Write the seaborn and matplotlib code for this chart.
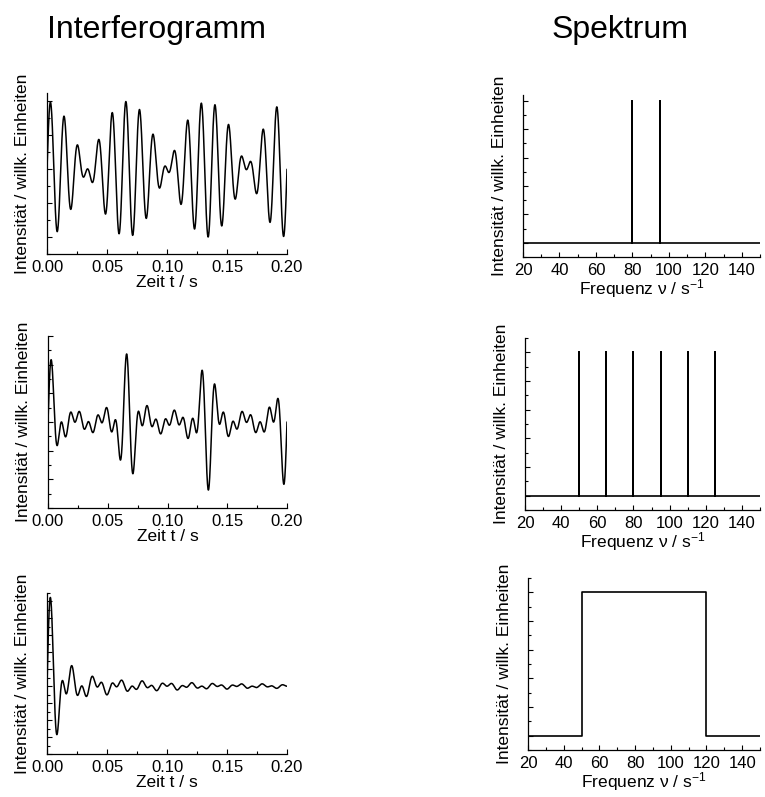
import numpy as np
import pandas as pd
import matplotlib
matplotlib.use("Agg")
import matplotlib.pyplot as plt
from matplotlib.ticker import MultipleLocator, FormatStrFormatter
import seaborn as sns

# spectral content of the three examples (frequencies in 1/s, intensity 1)
lines_top = [80, 95]
lines_mid = [50, 65, 80, 95, 110, 125]
band_bottom = [50, 120]
freq_range = [20, 150]
time_range = [0.0, 0.2]

sns.set_theme(style="ticks", rc={
    "xtick.direction": "in", "ytick.direction": "in",
    "xtick.major.size": 3.5, "ytick.major.size": 3.5,
    "xtick.minor.size": 2, "ytick.minor.size": 2,
    "xtick.major.width": 0.8, "ytick.major.width": 0.8,
    "xtick.minor.width": 0.8, "ytick.minor.width": 0.8,
    "axes.linewidth": 0.9, "axes.edgecolor": "black",
    "xtick.color": "black", "ytick.color": "black",
    "text.color": "black", "axes.labelcolor": "black",
})
plt.rcParams["font.family"] = ["Liberation Sans", "DejaVu Sans"]
plt.rcParams["mathtext.fontset"] = "custom"
plt.rcParams["mathtext.rm"] = "Liberation Sans"
plt.rcParams["mathtext.it"] = "Liberation Sans:italic"

t = np.linspace(time_range[0], time_range[1], 4001)


def interferogram_lines(freqs):
    return sum(np.sin(2 * np.pi * f * t) for f in freqs)


def interferogram_band(f1, f2):
    tt = np.where(t == 0, 1e-12, t)
    return (np.cos(2 * np.pi * f1 * tt) - np.cos(2 * np.pi * f2 * tt)) / (2 * np.pi * tt)


def spectrum_lines(freqs):
    x, y = [freq_range[0]], [0]
    for f in freqs:
        x += [f, f, f]
        y += [0, 1, 0]
    x.append(freq_range[1])
    y.append(0)
    return pd.DataFrame({"f": x, "I": y})


def spectrum_band(f1, f2):
    return pd.DataFrame({"f": [freq_range[0], f1, f1, f2, f2, freq_range[1]],
                         "I": [0, 0, 1, 1, 0, 0]})


rows = [
    (interferogram_lines(lines_top), spectrum_lines(lines_top), (-2.5, 2.25), 1.0, (-0.1, 1.04)),
    (interferogram_lines(lines_mid), spectrum_lines(lines_mid), (-7.5, 7.5), 2.5, (-0.1, 1.1)),
    (interferogram_band(*band_bottom), spectrum_band(*band_bottom), (-50, 68.75), 12.5, (-0.1, 1.1)),
]

W, H = 765, 797
left_boxes = [(47, 93, 287, 254), (48, 336, 287, 508), (47, 593, 287, 754)]
right_boxes = [(523, 95, 760, 257), (525, 338, 760, 510), (528, 578, 760, 750)]


def box(b):
    x0, y0, x1, y1 = b
    return [x0 / W, 1 - y1 / H, (x1 - x0) / W, (y1 - y0) / H]


fig = plt.figure(figsize=(W / 100, H / 100), dpi=100)
ylab = "Intensität / willk. Einheiten"

for i, (sig, spec, ylim_l, step_l, ylim_r) in enumerate(rows):
    ax = fig.add_axes(box(left_boxes[i]))
    sns.lineplot(x=t, y=sig, ax=ax, color="black", linewidth=1.1, sort=False, estimator=None)
    ax.set_xlim(*time_range)
    ax.set_ylim(*ylim_l)
    ax.xaxis.set_major_locator(MultipleLocator(0.05))
    ax.xaxis.set_minor_locator(MultipleLocator(0.025))
    ax.xaxis.set_major_formatter(FormatStrFormatter("%.2f"))
    ax.yaxis.set_major_locator(MultipleLocator(step_l))
    ax.yaxis.set_minor_locator(MultipleLocator(step_l / 2))
    ax.tick_params(axis="both", which="both", labelleft=False, labelsize=12, pad=4)
    ax.set_xlabel("Zeit t / s", fontsize=12.5, labelpad=0)
    ax.set_ylabel(ylab, fontsize=12.5)
    ax.yaxis.set_label_coords(-0.07, 0.5)
    sns.despine(ax=ax)

    ax = fig.add_axes(box(right_boxes[i]))
    sns.lineplot(data=spec, x="f", y="I", ax=ax, color="black", linewidth=1.2, sort=False, estimator=None)
    ax.set_xlim(*freq_range)
    ax.set_ylim(*ylim_r)
    ax.xaxis.set_major_locator(MultipleLocator(20))
    ax.xaxis.set_minor_locator(MultipleLocator(10))
    ax.yaxis.set_major_locator(MultipleLocator(0.2))
    ax.yaxis.set_minor_locator(MultipleLocator(0.1))
    ax.tick_params(axis="both", which="both", labelleft=False, labelsize=12, pad=4)
    ax.set_xlabel("Frequenz ν / s$^{\\mathregular{-1}}$", fontsize=12.5, labelpad=0)
    ax.set_ylabel(ylab, fontsize=12.5)
    ax.yaxis.set_label_coords(-0.068, 0.5)
    sns.despine(ax=ax)

fig.text(157 / W, 1 - 30 / H, "Interferogramm", fontsize=23, ha="center", va="center")
fig.text(620 / W, 1 - 30 / H, "Spektrum", fontsize=23, ha="center", va="center")

fig.savefig("out.png", dpi=100)
